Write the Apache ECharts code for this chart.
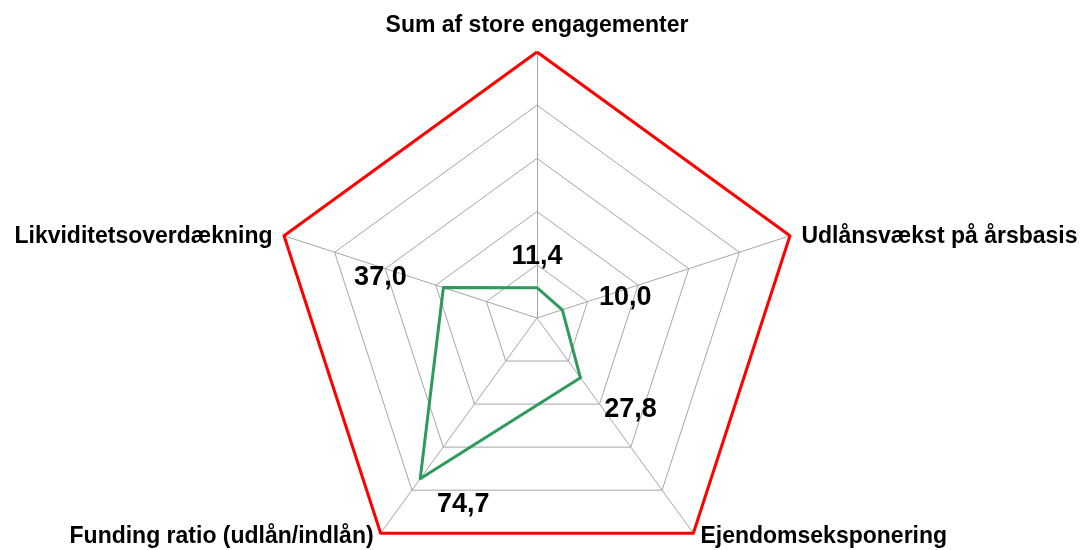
<!DOCTYPE html>
<html>
<head>
<meta charset="utf-8">
<script src="https://cdn.jsdelivr.net/npm/echarts@6/dist/echarts.min.js"></script>
<style>
  html, body { margin: 0; padding: 0; background: #fff; }
  #chart { width: 1080px; height: 550px; }
</style>
</head>
<body>
<div id="chart"></div>
<script>
  // indicators, counter-clockwise from the top
  const indicatorNames = [
    'Sum af store engagementer',
    'Likviditetsoverdækning',
    'Funding ratio (udlån/indlån)',
    'Ejendomseksponering',
    'Udlånsvækst på årsbasis'
  ]
  const values = [11.4, 37.0, 74.7, 27.8, 10.0]
  const limitValues = [100, 100, 100, 100, 100]
  const axisMax = 100

  // where each value label sits relative to its point
  const labelOffsets = [[0, -31], [-63, -10], [43, 26], [50, 32], [63, -12]]
  // rich style key per indicator name (nudges the name up/down)
  const nameStyles = ['top', 'side', 'lo', 'lo', 'side']

  const fmt = v => v.toFixed(1).replace('.', ',')
  const font = '"Liberation Sans", Arial, sans-serif'
  const nameText = { color: '#000', fontSize: 23, fontWeight: 'bold', fontFamily: font }

  const chart = echarts.init(document.getElementById('chart'))
  chart.setOption({
    animation: false,
    radar: {
      center: [537, 318],
      radius: 266,
      startAngle: 90,
      shape: 'polygon',
      splitNumber: 5,
      indicator: indicatorNames.map(n => ({ name: n, max: axisMax, min: 0 })),
      nameGap: 12,
      axisName: {
        color: '#000',
        fontSize: 23,
        fontWeight: 'bold',
        fontFamily: font,
        formatter: function(name) {
          const i = indicatorNames.indexOf(name)
          return '{' + nameStyles[i] + '|' + name + '}'
        },
        rich: {
          top: Object.assign({ padding: [0, 0, 3, 0] }, nameText),
          side: Object.assign({ padding: [10, 0, 0, 0] }, nameText),
          lo: Object.assign({ padding: [0, 0, 12, 0] }, nameText)
        }
      },
      axisLine: { lineStyle: { color: '#a6a6a6', width: 1 } },
      splitLine: { lineStyle: { color: '#a6a6a6', width: 1 } },
      splitArea: { show: false },
      axisTick: { show: false },
      axisLabel: { show: false }
    },
    series: [
      {
        name: 'Grænseværdi',
        type: 'radar',
        symbol: 'none',
        silent: true,
        lineStyle: { color: '#ff0000', width: 3 },
        data: [{ value: limitValues }]
      },
      {
        name: 'Pengeinstitut',
        type: 'radar',
        symbol: 'none',
        silent: true,
        lineStyle: { color: '#2e9a5e', width: 3 },
        data: [{ value: values }]
      },
      {
        name: 'labels',
        type: 'radar',
        symbol: 'circle',
        symbolSize: 0,
        silent: true,
        lineStyle: { opacity: 0, width: 0 },
        itemStyle: { color: 'transparent' },
        data: labelOffsets.map((off, k) => ({
          value: values,
          label: {
            show: true,
            position: 'inside',
            offset: off,
            color: '#000',
            fontSize: 27,
            fontWeight: 'bold',
            fontFamily: font,
            formatter: function(p) {
              const idx = p.dimensionIndex
              const show = idx != null ? idx === k : p.value === values[k]
              return show ? fmt(typeof p.value === 'number' ? p.value : values[k]) : ''
            }
          }
        }))
      }
    ]
  })
</script>
</body>
</html>
